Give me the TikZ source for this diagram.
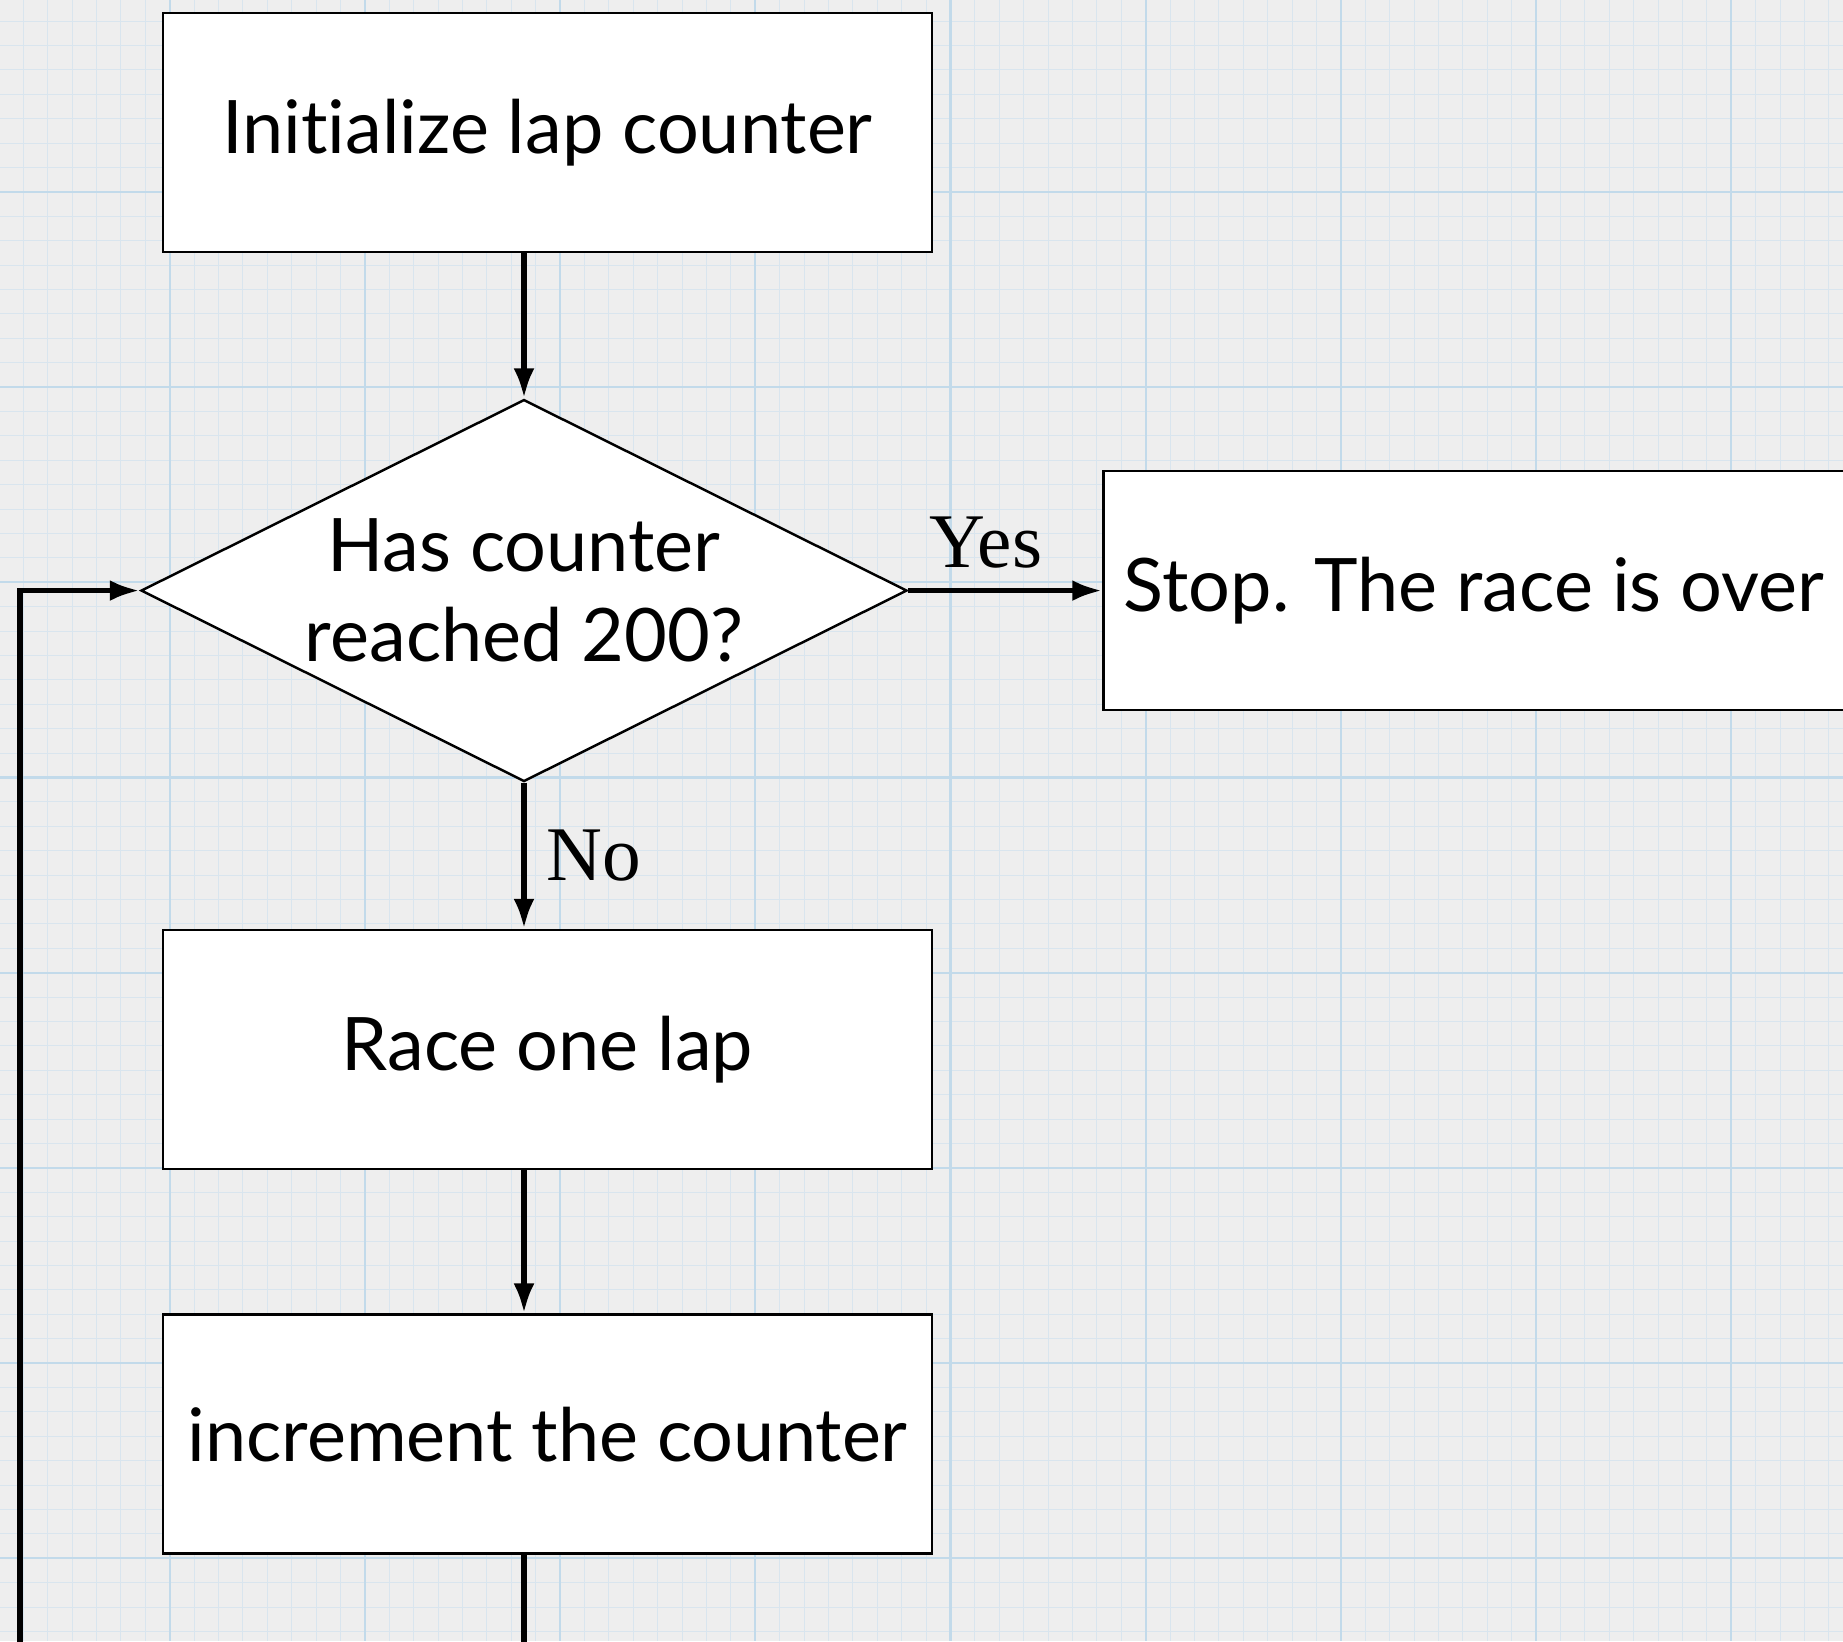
\documentclass[tikz,border=0pt]{standalone}
\usepackage{fontspec}
\setmainfont{Lato}[Ligatures=NoCommon]
\newfontfamily\answerface{Liberation Serif}
\usetikzlibrary{arrows.meta,positioning,shapes.geometric}
\definecolor{paper}{HTML}{EEEEEE}
\definecolor{gridminor}{HTML}{D9E5EE}
\definecolor{gridmajor}{HTML}{C2DAEA}

\begin{document}
\begin{tikzpicture}[node distance=1.45cm, font=\fontsize{21}{25.5}\selectfont]
  \tikzset{box/.style={draw, line width=0.75pt, fill=white, align=center, minimum width=7.69cm, minimum height=2.39cm},
    decision/.style={draw, line width=0.7pt, fill=white, diamond, shape aspect=2, inner sep=0pt, align=center, minimum width=7.66cm, minimum height=3.82cm},
    flow/.style={-{Latex[length=0.3cm, width=0.21cm]}, line width=1.6pt},
    answer/.style={font=\answerface\fontsize{22}{26}\selectfont, inner sep=0.2cm}}
  \useasboundingbox (0,0) rectangle (18.43,-16.41);
  \clip (0,0) rectangle (18.43,-16.41);
  \fill[paper] (0,0) rectangle (18.43,-16.41);
  \foreach \i in {0,...,75} \draw[gridminor, line width=0.3pt] ({0.233+0.244*\i},0) -- ++(0,-16.41);
  \foreach \i in {0,...,67} \draw[gridminor, line width=0.3pt] (0,{-0.211-0.244*\i}) -- ++(18.43,0);
  \foreach \i in {0,...,8} \draw[gridmajor, line width=0.6pt] ({1.697+1.952*\i},0) -- ++(0,-16.41);
  \foreach \i in {0,...,7} \draw[gridmajor, line width=0.6pt] (0,{-1.919-1.952*\i}) -- ++(18.43,0);
  \node[box] (init) at (5.475,-1.325) {Initialize lap counter};
  \node[decision, below=of init, xshift=-0.235cm] (check) {Has counter\\reached 200?};
  \node[box, below=1.46cm of check, xshift=0.235cm] (race) {Race one lap};
  \node[box, below=1.43cm of race] (inc) {increment the counter};
  \node[box, right=1.94cm of check, minimum width=7.41cm] (stop) {Stop. The race is over};
  \coordinate (back) at (0.2,-17);
  \draw[flow] (init.south -| check.north) -- (check.north);
  \draw[flow] (check.east) -- node[answer, pos=0.4, above] {Yes} (stop.west);
  \draw[flow] (check.south) -- node[answer, right] {No} (race.north -| check.south);
  \draw[flow] (race.south -| check.south) -- (inc.north -| check.south);
  \draw[flow] (inc.south -| check.south) |- (back) |- (check.west);
\end{tikzpicture}
\end{document}
